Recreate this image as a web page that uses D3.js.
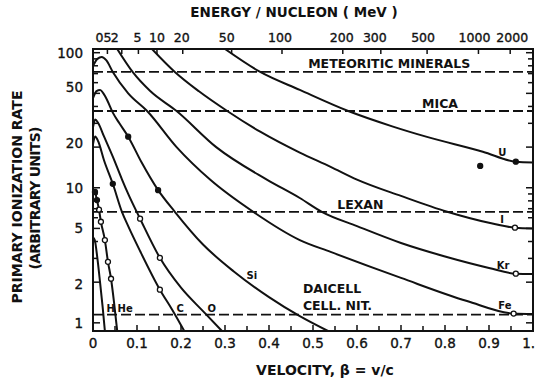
<!DOCTYPE html>
<html>
<head>
<meta charset="utf-8">
<script src="https://cdn.jsdelivr.net/npm/d3@7"></script>
<style>
  body { margin: 0; background: #fff; }
  text { font-family: "DejaVu Sans", sans-serif; fill: #111; }
  .tick { font-size: 13.5px; stroke: #111; stroke-width: 0.35px; }
  .title { font-size: 14px; font-weight: bold; }
  .thrlab { font-size: 12.5px; font-weight: bold; }
  .elab { font-size: 10px; font-weight: bold; }
</style>
</head>
<body>
<div id="chart"></div>
<script>
// velocity axis (beta) and ionization rate axis
var betaLabels = [0, 0.1, 0.2, 0.3, 0.4, 0.5, 0.6, 0.7, 0.8, 0.9, 1.0];
var rateLabels = [1, 2, 5, 10, 20, 50, 100];
// energy per nucleon (MeV) on top axis
var energyTicks = [0.5, 2, 5, 10, 20, 50, 100, 200, 300, 500, 1000, 2000];
var energyLabels = ["05", "2", "5", "10", "20", "50", "100", "200", "300", "500", "1000", "2000"];

// detector thresholds
var thresholdNames = ["METEORITIC MINERALS", "MICA", "LEXAN", "DAICELL"];
var thresholdValues = [72, 37, 6.64, 1.15];

// curves: [beta, rate]
var hData  = [[0, 4.3], [0.004, 4.1], [0.01, 3.0], [0.016, 2.0], [0.022, 1.3], [0.027, 0.87]];
var heData = [[0, 9.6], [0.0045, 9.3], [0.009, 8.1], [0.0136, 6.9], [0.018, 5.6], [0.027, 4.1], [0.034, 2.83], [0.041, 2.12], [0.048, 1.4], [0.055, 0.87]];
var cData  = [[0, 21], [0.005, 24], [0.012, 22], [0.025, 16], [0.045, 10.7], [0.066, 6.6], [0.08, 5.2], [0.107, 3.4], [0.152, 1.76], [0.18, 1.25], [0.21, 0.84]];
var oData  = [[0, 28], [0.005, 32], [0.012, 30], [0.025, 24], [0.045, 17], [0.066, 11.5], [0.08, 9], [0.107, 5.9], [0.152, 3.03], [0.2, 1.82], [0.25, 1.22], [0.293, 0.87]];
var siData = [[0, 46], [0.008, 52], [0.016, 53], [0.03, 46], [0.045, 36], [0.06, 30], [0.08, 23.9], [0.11, 15.5], [0.148, 9.6], [0.186, 6.64], [0.25, 3.8], [0.32, 2.4], [0.4, 1.55], [0.47, 1.12], [0.534, 0.87]];
var feData = [[0, 80], [0.01, 90], [0.02, 93], [0.03, 88], [0.045, 72], [0.08, 50], [0.123, 37], [0.19, 20], [0.266, 11.5], [0.364, 6.64], [0.47, 4.1], [0.54, 3.35], [0.7, 2.15], [0.85, 1.45], [0.956, 1.17], [1.0, 1.16]];
var krData = [[0.055, 106.5], [0.09, 72], [0.13, 52], [0.19, 37], [0.28, 20], [0.395, 11.5], [0.47, 8.4], [0.52, 6.64], [0.6, 5.2], [0.7, 3.9], [0.8, 3.1], [0.9, 2.55], [0.961, 2.31], [1.0, 2.3]];
var iData  = [[0.134, 106.5], [0.186, 72], [0.24, 52], [0.305, 37], [0.38, 26], [0.47, 18.2], [0.54, 14.3], [0.6, 11.5], [0.7, 8.7], [0.805, 6.64], [0.9, 5.5], [0.959, 5.06], [1.0, 5.0]];
var uData  = [[0.30, 106.5], [0.38, 72], [0.47, 53], [0.58, 37], [0.68, 28.5], [0.757, 23.9], [0.886, 18.5], [0.961, 15.6], [1.0, 15.4]];

var curveNames = ["H", "He", "C", "O", "Si", "Fe", "Kr", "I", "U"];
var curveData = [hData, heData, cData, oData, siData, feData, krData, iData, uData];

// measured points: [beta, rate, filled]
var points = [
  [0.0045, 9.3, 1], [0.009, 8.1, 1], [0.0136, 6.9, 0], [0.018, 5.6, 0], [0.027, 4.1, 0], [0.034, 2.83, 0], [0.041, 2.12, 0],
  [0.045, 10.7, 1], [0.152, 1.76, 0],
  [0.107, 5.9, 0], [0.152, 3.03, 0],
  [0.08, 23.9, 1], [0.148, 9.6, 1],
  [0.961, 15.6, 1], [0.88, 14.5, 1], [0.959, 5.06, 0], [0.961, 2.31, 0], [0.956, 1.17, 0]
];

// element labels: [name, beta, rate]
var elementLabels = [
  ["H", 0.04, 1.21], ["He", 0.073, 1.21], ["C", 0.198, 1.21], ["O", 0.27, 1.21], ["Si", 0.361, 2.12],
  ["Fe", 0.936, 1.27], ["Kr", 0.932, 2.5], ["I", 0.93, 5.5], ["U", 0.93, 17.3]
];

var width = 535, height = 385;
var plotLeft = 93, plotRight = 533, plotTop = 49, plotBottom = 331;

var x = d3.scaleLinear().domain([0, 1]).range([plotLeft, plotRight]);
var y = d3.scaleLog().domain([0.87, 106.5]).range([plotBottom, plotTop]);

function energyToBeta(e) {
  var g = 1 + e / 931.5;
  return Math.sqrt(1 - 1 / (g * g));
}

var svg = d3.select("#chart").append("svg")
  .attr("width", width)
  .attr("height", height);

svg.append("defs").append("clipPath").attr("id", "plot")
  .append("rect").attr("x", plotLeft).attr("y", plotTop)
  .attr("width", plotRight - plotLeft).attr("height", plotBottom - plotTop);

// threshold lines
svg.selectAll(".thr")
  .data(thresholdValues)
  .join("line")
  .attr("x1", plotLeft).attr("x2", plotRight)
  .attr("y1", d => y(d)).attr("y2", d => y(d))
  .attr("stroke", "#111").attr("stroke-width", 1.8)
  .attr("stroke-dasharray", "10,4");

// label anchors in data units [beta, rate]
var thrLabelPos = [[0.489, 77.4], [0.748, 39.1], [0.555, 6.95], [0.477, 1.67]];
svg.selectAll(".thrlab")
  .data(thresholdNames)
  .join("text")
  .attr("class", "thrlab")
  .attr("x", (d, i) => x(thrLabelPos[i][0]))
  .attr("y", (d, i) => y(thrLabelPos[i][1]))
  .text(d => d);
svg.append("text")
  .attr("class", "thrlab")
  .attr("x", x(0.477)).attr("y", y(1.25))
  .text("CELL. NIT.");

// curves
var line = d3.line()
  .x(d => x(d[0]))
  .y(d => y(d[1]))
  .curve(d3.curveMonotoneX);

svg.append("g").attr("clip-path", "url(#plot)")
  .selectAll("path")
  .data(curveData)
  .join("path")
  .attr("d", line)
  .attr("fill", "none")
  .attr("stroke", "#111")
  .attr("stroke-width", 2);

// data points
svg.selectAll(".pt")
  .data(points)
  .join("circle")
  .attr("cx", d => x(d[0]))
  .attr("cy", d => y(d[1]))
  .attr("r", 2.5)
  .attr("fill", d => d[2] ? "#111" : "#fff")
  .attr("stroke", "#111")
  .attr("stroke-width", 1.3);

svg.selectAll(".elab")
  .data(elementLabels)
  .join("text")
  .attr("class", "elab")
  .attr("x", d => x(d[1]))
  .attr("y", d => y(d[2]))
  .attr("text-anchor", "middle")
  .text(d => d[0]);

// frame
svg.append("rect")
  .attr("x", plotLeft).attr("y", plotTop)
  .attr("width", plotRight - plotLeft).attr("height", plotBottom - plotTop)
  .attr("fill", "none").attr("stroke", "#111").attr("stroke-width", 2);

// bottom ticks
svg.selectAll(".bt")
  .data(d3.range(0, 21).map(i => i / 20))
  .join("line")
  .attr("x1", d => x(d)).attr("x2", d => x(d))
  .attr("y1", plotBottom).attr("y2", (d, i) => plotBottom - (i % 2 ? 5 : 6))
  .attr("stroke", "#111").attr("stroke-width", 1.5);

svg.selectAll(".bl")
  .data(betaLabels)
  .join("text")
  .attr("class", "tick")
  .attr("x", d => x(d))
  .attr("y", 348)
  .attr("text-anchor", "middle")
  .text(d => d === 0 ? "0" : d3.format(".1f")(d));

// top ticks (energy)
svg.selectAll(".tt")
  .data(energyTicks)
  .join("line")
  .attr("x1", d => x(energyToBeta(d))).attr("x2", d => x(energyToBeta(d)))
  .attr("y1", plotTop).attr("y2", plotTop + 5)
  .attr("stroke", "#111").attr("stroke-width", 1.5);

// crowded labels sit a little off their ticks, as in the original
var energyShift = [-4, -7, -1, 0, -1, -5, -2, -1, -6, -4, -4, 2];
svg.selectAll(".tl")
  .data(energyTicks)
  .join("text")
  .attr("class", "tick")
  .style("font-size", "12.5px")
  .attr("x", (d, i) => x(energyToBeta(d)) + energyShift[i])
  .attr("y", 42)
  .attr("text-anchor", "middle")
  .text((d, i) => energyLabels[i]);

// left / right log ticks
var minor = [];
[1, 10].forEach(function (dec) {
  for (var k = 1; k < 10; k++) minor.push(dec * k);
});
minor.push(100);

svg.selectAll(".lt")
  .data(minor)
  .join("line")
  .attr("x1", plotLeft).attr("x2", d => plotLeft + (rateLabels.indexOf(d) >= 0 ? 7 : 5))
  .attr("y1", d => y(d)).attr("y2", d => y(d))
  .attr("stroke", "#111").attr("stroke-width", 1.5);

svg.selectAll(".rt")
  .data(minor)
  .join("line")
  .attr("x1", plotRight).attr("x2", d => plotRight - (rateLabels.indexOf(d) >= 0 ? 7 : 5))
  .attr("y1", d => y(d)).attr("y2", d => y(d))
  .attr("stroke", "#111").attr("stroke-width", 1.5);

var rateShift = [0, 2, 0, 0, -4, -6, 0];
svg.selectAll(".ll")
  .data(rateLabels)
  .join("text")
  .attr("class", "tick")
  .attr("x", 83)
  .attr("y", (d, i) => y(d) + 5 + rateShift[i])
  .attr("text-anchor", "end")
  .text(d => d);

// axis titles
svg.append("text")
  .attr("class", "title")
  .style("font-size", "13.5px")
  .attr("x", 294).attr("y", 17)
  .attr("text-anchor", "middle")
  .text("ENERGY / NUCLEON ( MeV )");

svg.append("text")
  .attr("class", "title")
  .attr("x", 325).attr("y", 375)
  .attr("text-anchor", "middle")
  .text("VELOCITY, β = v/c");

svg.append("text")
  .attr("class", "title")
  .attr("transform", "translate(22,197) rotate(-90)")
  .attr("text-anchor", "middle")
  .attr("textLength", 213)
  .text("PRIMARY IONIZATION RATE");

svg.append("text")
  .attr("class", "title")
  .attr("transform", "translate(40,198) rotate(-90)")
  .attr("text-anchor", "middle")
  .attr("textLength", 143)
  .text("(ARBITRARY UNITS)");
</script>
</body>
</html>
